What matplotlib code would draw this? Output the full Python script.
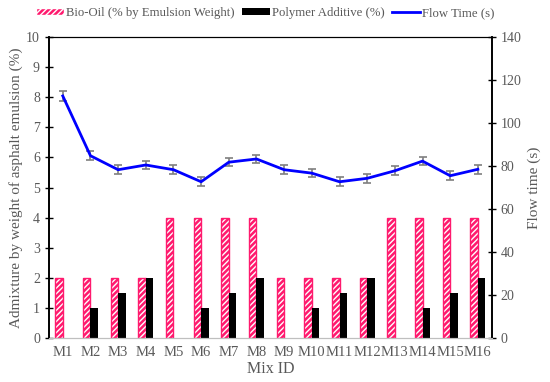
import matplotlib.pyplot as plt
import numpy as np
from matplotlib.patches import Patch
from matplotlib.lines import Line2D

plt.rcParams['font.family'] = ['Liberation Serif', 'DejaVu Serif']

mix_ids = ['M1', 'M2', 'M3', 'M4', 'M5', 'M6', 'M7', 'M8',
           'M9', 'M10', 'M11', 'M12', 'M13', 'M14', 'M15', 'M16']
bio_oil = [2, 2, 2, 2, 4, 4, 4, 4, 2, 2, 2, 2, 4, 4, 4, 4]
polymer = [0, 1, 1.5, 2, 0, 1, 1.5, 2, 0, 1, 1.5, 2, 0, 1, 1.5, 2]
flow_time = [112.6, 84.8, 78.3, 80.5, 78.3, 72.7, 81.8, 83.3,
             78.3, 76.7, 72.7, 74.3, 77.8, 82.3, 75.5, 78.5]
flow_err = [2.2, 2.0, 2.0, 2.0, 2.0, 2.0, 2.0, 2.0,
            2.0, 2.0, 2.0, 2.0, 2.0, 2.0, 2.0, 2.0]

pink = '#FF1A6E'
grey = '#595959'

fig = plt.figure(figsize=(5.5, 3.82), dpi=100)
ax = fig.add_axes([0.089, 0.115, 0.805, 0.788])
ax2 = ax.twinx()

x = np.arange(len(mix_ids))
w = 0.27
# hatched pink bars: white hatch on pink, then pink outline on top
ax.bar(x - w / 2, bio_oil, w, color=pink, edgecolor='white', hatch='//////', linewidth=0)
ax.bar(x - w / 2, bio_oil, w, fill=False, edgecolor=pink, linewidth=1.0)
ax.bar(x + w / 2, polymer, w, color='black', linewidth=0)

ax2.errorbar(x, flow_time, yerr=flow_err, color='#0000FF', lw=2,
             ecolor='#7f7f7f', elinewidth=1.2, capsize=3, capthick=1.2, zorder=3)

ax.set_xlim(-0.5, 15.5)
ax.set_ylim(0, 10)
ax.set_yticks(range(0, 11))
ax2.set_ylim(0, 140)
ax2.set_yticks(range(0, 141, 20))

ax.set_xticks(x)
ax.set_xticklabels(mix_ids)
ax.tick_params(axis='x', length=0, pad=6, labelsize=10.5, colors=grey)
ax.tick_params(axis='y', direction='inout', length=6, width=1, labelsize=10,
               labelcolor=grey)
ax2.tick_params(axis='y', direction='inout', length=6, width=1, labelsize=10,
                labelcolor=grey)

for a in (ax, ax2):
    a.spines['bottom'].set_color('#bfbfbf')
    a.spines['top'].set_color('black')
    a.spines['left'].set_linewidth(1.2)
    a.spines['right'].set_linewidth(1.2)

ax.set_xlabel('Mix ID', fontsize=11.5, color=grey, labelpad=1)
ax.set_ylabel('Admixture by weight of asphalt emulsion (%)', fontsize=11, color=grey, labelpad=2)
ax2.set_ylabel('Flow time (s)', fontsize=11, color=grey, labelpad=4)

# legend
handles = [Patch(facecolor=pink, edgecolor='white', hatch='//////'),
           Patch(facecolor='black'),
           Line2D([0], [0], color='#0000FF', lw=2)]
labels = ['Bio-Oil (% by Emulsion Weight)', 'Polymer Additive (%)', 'Flow Time (s)']
leg = fig.legend(handles, labels, loc='upper center', bbox_to_anchor=(0.482, 1.012),
                 ncol=3, frameon=False, fontsize=9.2, handlelength=2.2,
                 handletextpad=0.15, columnspacing=0.6, handleheight=0.55)
for t in leg.get_texts():
    t.set_color(grey)

fig.savefig('out.png', dpi=100)
